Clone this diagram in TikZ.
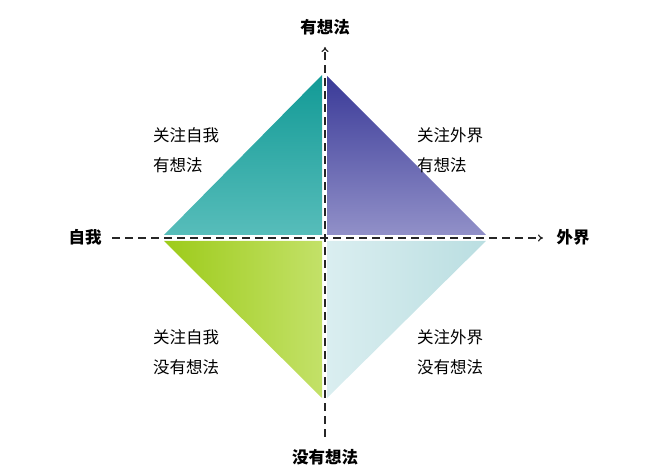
\documentclass[tikz,border=0pt]{standalone}
\usepackage{fontspec}
\setmainfont{Noto Sans CJK SC}
\usetikzlibrary{arrows.meta}
\definecolor{tealtop}{HTML}{129A96}
\definecolor{tealbot}{HTML}{57BDBA}
\definecolor{purptop}{HTML}{3A3A98}
\definecolor{purpbot}{HTML}{9190C8}
\definecolor{limel}{HTML}{9DCB1A}
\definecolor{limer}{HTML}{C3E168}
\definecolor{icel}{HTML}{DAEEF0}
\definecolor{icer}{HTML}{BADEE1}
\tikzset{
  axis/.style={line width=1.2pt, draw=black!85, dash pattern=on 8pt off 5pt},
  axislabel/.style={font=\fontsize{16.5}{20}\selectfont\bfseries, text=black},
  quadlabel/.style={font=\fontsize{16.5}{20}\selectfont, text=black, anchor=west, inner sep=0pt}
}
\begin{document}
\begin{tikzpicture}[x=1pt, y=-1pt]
			\useasboundingbox (0,0) rectangle (665,470);
			\shade[top color=tealtop, bottom color=tealbot] (164,235) -- (322,75) -- (322,235) -- cycle;
			\shade[top color=purptop, bottom color=purpbot] (327,76) -- (486,235) -- (327,235) -- cycle;
			\shade[left color=limel, right color=limer] (164,241) -- (322,241) -- (322,398) -- cycle;
			\shade[left color=icel, right color=icer] (327,241) -- (486,241) -- (327,398) -- cycle;
			\coordinate (A_l) at (112,238);
			\coordinate (A_r) at (543,238);
			\coordinate (A_t) at (325,47);
			\coordinate (A_b) at (325,437);
			\draw[axis, -{To[length=5pt, width=7pt]}] (A_l) -- (A_r);
			\draw[axis, -{To[length=5pt, width=7pt]}] (A_b) -- (A_t);
			\node[axislabel] (L_t) at (325,27) {有想法};
			\node[axislabel] (L_b) at (325,457) {没有想法};
			\node[axislabel] (L_l) at (85,237) {自我};
			\node[axislabel] (L_r) at (573,237) {外界};
			\node[quadlabel] (Q_0_0) at (153,135) {关注自我};
			\node[quadlabel] (Q_0_1) at (153,165) {有想法};
			\node[quadlabel] (Q_1_0) at (417,135) {关注外界};
			\node[quadlabel] (Q_1_1) at (417,165) {有想法};
			\node[quadlabel] (Q_2_0) at (153,337) {关注自我};
			\node[quadlabel] (Q_2_1) at (153,367) {没有想法};
			\node[quadlabel] (Q_3_0) at (417,337) {关注外界};
			\node[quadlabel] (Q_3_1) at (417,367) {没有想法};
		\end{tikzpicture}
\end{document}
